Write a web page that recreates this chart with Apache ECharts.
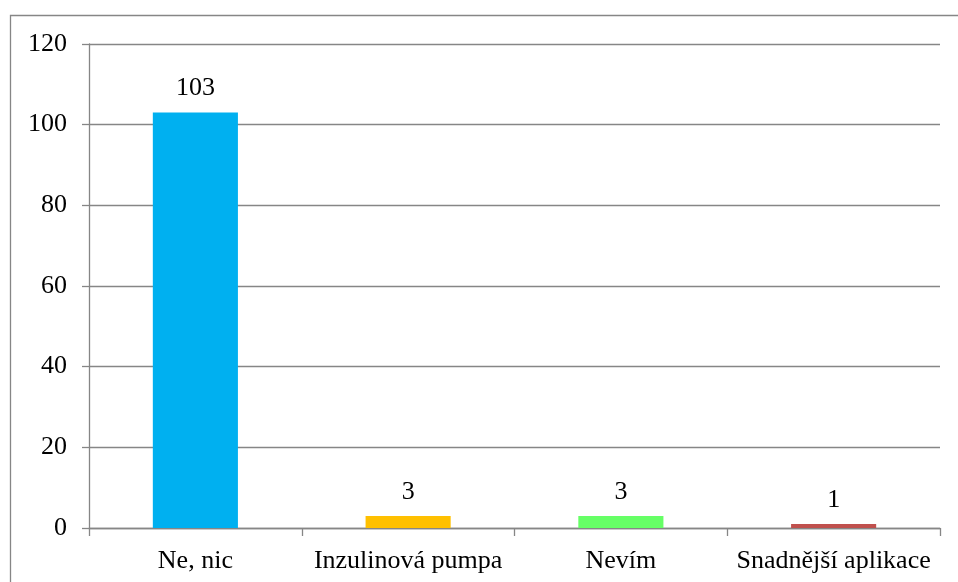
<!DOCTYPE html>
<html>
<head>
<meta charset="utf-8">
<script src="https://cdn.jsdelivr.net/npm/echarts@6/dist/echarts.min.js"></script>
<style>
  html, body { margin: 0; padding: 0; background: #fff; }
  #chart { width: 958px; height: 582px; }
</style>
</head>
<body>
<div id="chart"></div>
<script>
  // data
  const categories = ['Ne, nic', 'Inzulinová pumpa', 'Nevím', 'Snadnější aplikace']
  const values = [103, 3, 3, 1]
  const barColors = ['#00B0F0', '#FFC000', '#66FF66', '#C0504D']
  const yTicks = [0, 20, 40, 60, 80, 100, 120]

  const chart = echarts.init(document.getElementById('chart'))
  const font = '"Liberation Serif", "Times New Roman", serif'

  chart.setOption({
    animation: false,
    textStyle: { fontFamily: font },
    graphic: [{
      type: 'rect',
      shape: { x: 10.5, y: 15.5, width: 1000, height: 1000 },
      style: { fill: 'none', stroke: '#868686', lineWidth: 1.3 },
      silent: true
    }],
    grid: { left: 89, right: 18, top: 44, bottom: 54 },
    xAxis: {
      type: 'category',
      data: categories,
      axisLine: { lineStyle: { color: '#868686', width: 1.3 } },
      axisTick: { show: true, alignWithLabel: false, length: 8, lineStyle: { color: '#868686', width: 1.3 } },
      axisLabel: { interval: 0, color: '#000', fontSize: 26, fontFamily: font, margin: 20 }
    },
    yAxis: {
      type: 'value',
      min: 0,
      max: 120,
      interval: 20,
      axisLine: { show: true, lineStyle: { color: '#868686', width: 1.3 } },
      axisTick: { show: true, inside: false, length: 7, lineStyle: { color: '#868686', width: 1.3 } },
      splitLine: { lineStyle: { color: '#868686', width: 1.3 } },
      axisLabel: {
        color: '#000', fontSize: 26, fontFamily: font, margin: 22,
        formatter: v => yTicks.includes(v) ? String(v) : ''
      }
    },
    series: [{
      type: 'bar',
      barWidth: '40%',
      data: values.map((v, i) => ({ value: v, itemStyle: { color: barColors[i] } })),
      label: { show: true, position: 'top', distance: 11, color: '#000', fontSize: 26, fontFamily: font }
    }]
  })
</script>
</body>
</html>
